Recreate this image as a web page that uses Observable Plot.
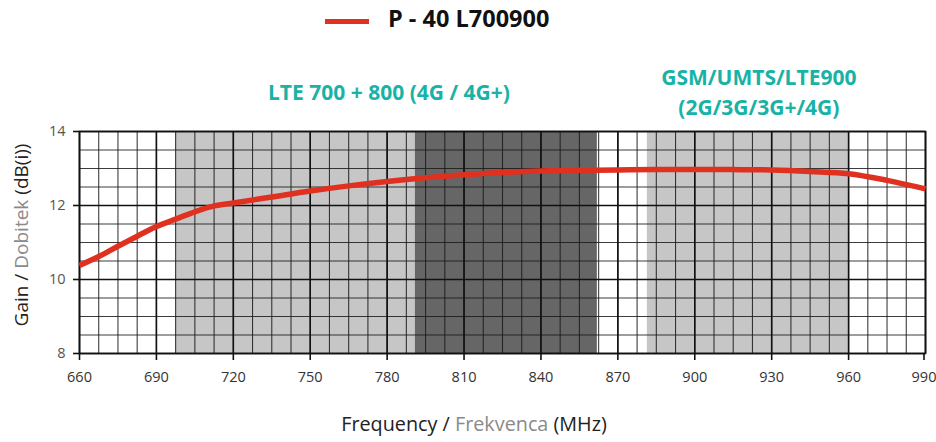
<!DOCTYPE html>
<html>
<head>
<meta charset="utf-8">
<script src="https://cdn.jsdelivr.net/npm/d3@7"></script>
<script src="https://cdn.jsdelivr.net/npm/@observablehq/plot@0.6"></script>
<style>
  html, body { margin: 0; padding: 0; background: #fff; }
  body { width: 936px; height: 442px; position: relative; font-family: "Open Sans", sans-serif; overflow: hidden; }
  #legend { position: relative; height: 40px; }
  #legend .sw { position: absolute; left: 325px; top: 19px; width: 44px; height: 5px; background: #e03020; }
  #legend .tx { position: absolute; left: 388px; top: 7px; font-size: 23.5px; line-height: 1; font-weight: 700; color: #111; white-space: nowrap; }
</style>
</head>
<body>
<div id="legend"><div class="sw"></div><div class="tx">P - 40 L700900</div></div>
<div id="chart"></div>
<script>
// Gain curve
const freq = [660, 667.5, 675, 682.5, 690, 697.5, 705, 712.5, 720, 735, 750, 765, 780, 795, 810, 825, 840, 855, 870, 885, 900, 915, 930, 945, 960, 975, 990];
const gain = [10.38, 10.62, 10.9, 11.17, 11.43, 11.63, 11.83, 11.99, 12.07, 12.23, 12.39, 12.53, 12.65, 12.75, 12.83, 12.89, 12.93, 12.95, 12.96, 12.97, 12.97, 12.97, 12.96, 12.92, 12.86, 12.68, 12.45];
const seriesName = "P - 40 L700900";

// Frequency bands
const bandStart = [697.5, 791, 881.5];
const bandEnd = [791, 862, 960];
const bandTone = ["light", "dark", "light"];

// Band labels
const bandLabelText = ["LTE 700 + 800 (4G / 4G+)", "GSM/UMTS/LTE900\n(2G/3G/3G+/4G)"];
const bandLabelX = [780.7, 925];

// Axis ticks
const xTicks = [660, 690, 720, 750, 780, 810, 840, 870, 900, 930, 960, 990];
const yTicks = [8, 10, 12, 14];

const curve = freq.map((f, i) => ({f, g: gain[i]}));
const bands = bandStart.map((s, i) => ({x1: s, x2: bandEnd[i], tone: bandTone[i]}));
const labels = bandLabelText.map((t, i) => ({t, x: bandLabelX[i]}));

const xMinor = d3.range(660, 990.01, 7.5);
const yMinor = d3.range(8, 14.01, 0.5);
const toneColor = {light: "#c6c6c6", dark: "#666666"};
const xLast = xTicks[xTicks.length - 1];

const plot = Plot.plot({
  width: 936,
  height: 402,
  marginTop: 91,
  marginBottom: 89,
  marginLeft: 79,
  marginRight: 11,
  style: {fontFamily: "Open Sans, sans-serif", fontSize: "14.5px", color: "#333", background: "#fff"},
  x: {domain: [660, 990], label: null},
  y: {domain: [8, 14], label: null},
  marks: [
    Plot.rect(bands, {x1: "x1", x2: "x2", fill: d => toneColor[d.tone]}),
    Plot.ruleX(xMinor, {stroke: "#1a1a1a", strokeWidth: 1.1, strokeOpacity: 0.85}),
    Plot.ruleY(yMinor, {stroke: "#1a1a1a", strokeWidth: 1.1, strokeOpacity: 0.85}),
    Plot.ruleX(xTicks, {stroke: "#111", strokeWidth: 1.6}),
    Plot.ruleY(yTicks, {stroke: "#111", strokeWidth: 1.6}),
    Plot.frame({stroke: "#111", strokeWidth: 1.6}),
    Plot.line(curve, {x: "f", y: "g", curve: "catmull-rom", stroke: "#e03020", strokeWidth: 5.5, strokeLinecap: "butt"}),
    Plot.axisX(xTicks.filter(t => t !== xLast), {tickSize: 7, tickPadding: 11, stroke: "#111", strokeWidth: 1.6, fill: "#333"}),
    Plot.axisX([xLast], {tickSize: 7, tickPadding: 11, stroke: "#111", strokeWidth: 1.6, fill: "#333", dx: -1.5}),
    Plot.axisY(yTicks, {tickSize: 6, tickPadding: 8, tickFormat: d3.format("d"), stroke: "#111", strokeWidth: 1.6, fill: "#555"}),
    Plot.text(labels, {x: "x", text: "t", frameAnchor: "top", dy: -41, lineAnchor: "middle", lineHeight: 1.42,
      fill: "#19b2a6", fontSize: 21, fontWeight: 700})
  ]
});
document.getElementById("chart").appendChild(plot);

// Axis titles with two-tone words
const svg = d3.select(plot);
const yl = svg.append("text")
  .attr("transform", "translate(28,195) rotate(-90)")
  .attr("text-anchor", "middle")
  .attr("font-size", 19).attr("fill", "#222");
yl.append("tspan").text("Gain / ");
yl.append("tspan").attr("fill", "#8a8a8a").text("Dobitek");
yl.append("tspan").text(" (dB(i))");

const xl = svg.append("text")
  .attr("x", 474).attr("y", 391)
  .attr("text-anchor", "middle")
  .attr("font-size", 19.8).attr("fill", "#222");
xl.append("tspan").text("Frequency / ");
xl.append("tspan").attr("fill", "#8a8a8a").text("Frekvenca");
xl.append("tspan").text(" (MHz)");
</script>
</body>
</html>
